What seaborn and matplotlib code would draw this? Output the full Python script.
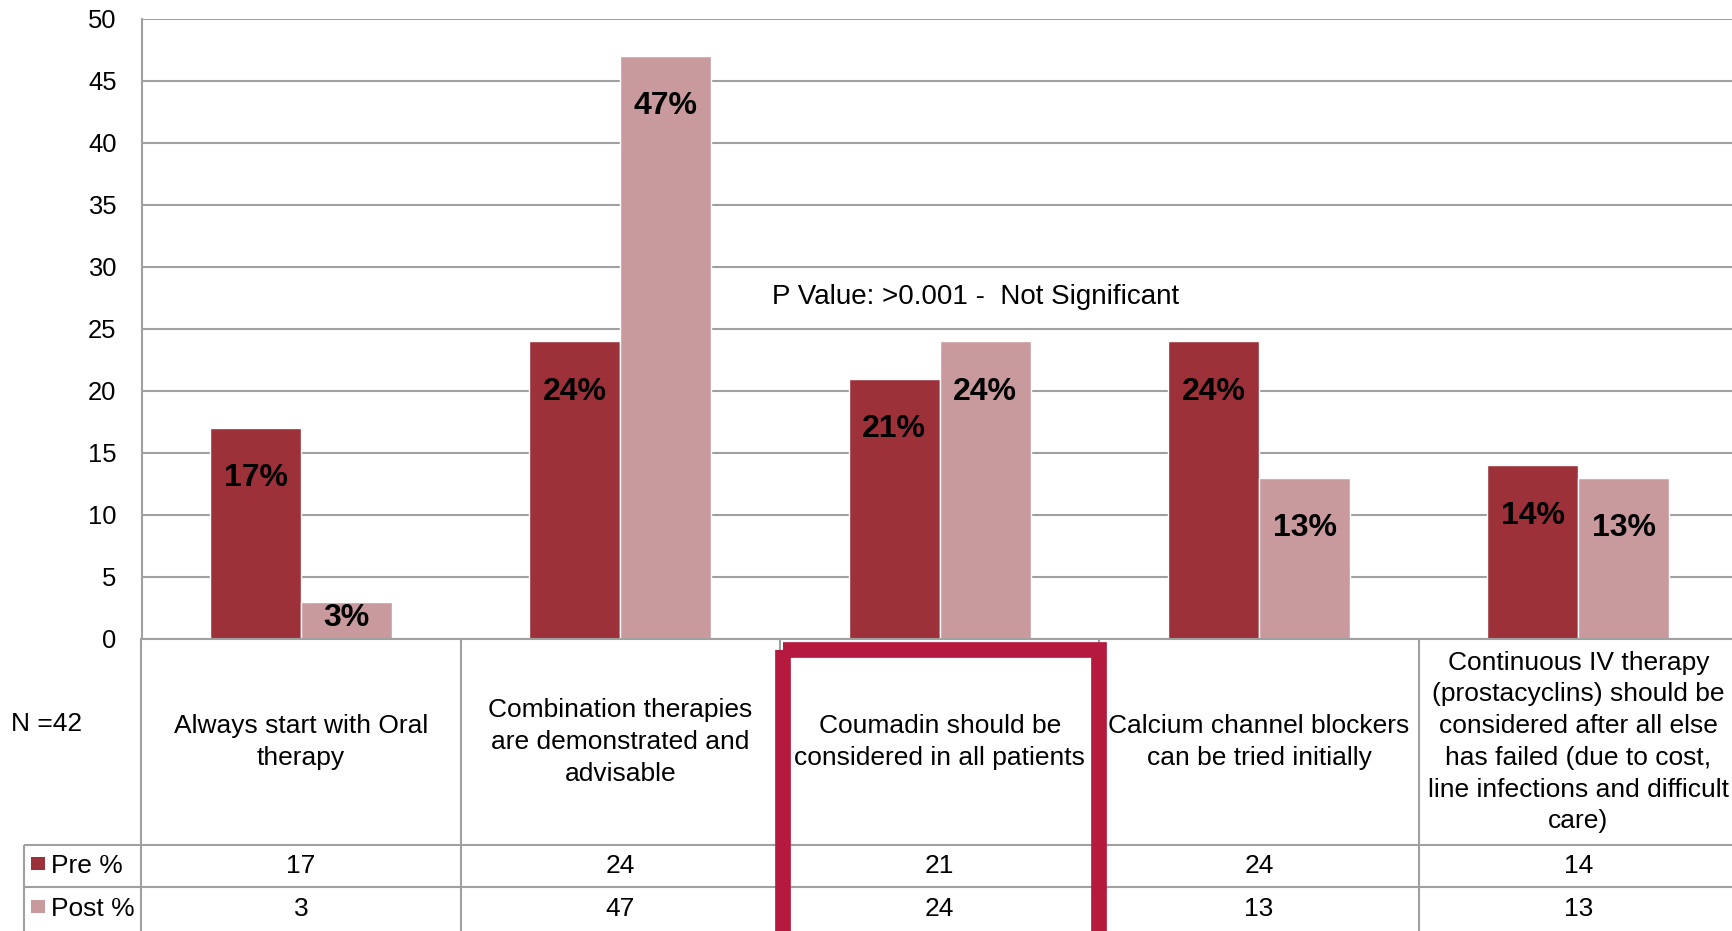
import matplotlib
matplotlib.use("Agg")
import matplotlib.pyplot as plt
import seaborn as sns
import pandas as pd
import numpy as np
from matplotlib.patches import Rectangle

# ---- data -------------------------------------------------------------
categories = [
    "Always start with Oral\ntherapy",
    "Combination therapies\nare demonstrated and\nadvisable",
    "Coumadin should be\nconsidered in all patients",
    "Calcium channel blockers\ncan be tried initially",
    "Continuous IV therapy\n(prostacyclins) should be\nconsidered after all else\n"
    "has failed (due to cost,\nline infections and difficult\ncare)",
]
pre_pct = [17, 24, 21, 24, 14]
post_pct = [3, 47, 24, 13, 13]
series_names = ["Pre %", "Post %"]
y_ticks = [0, 5, 10, 15, 20, 25, 30, 35, 40, 45, 50]
sample_note = "N =42"
p_value_note = "P Value: >0.001 -  Not Significant"
highlight_index = 2

# ---- style ------------------------------------------------------------
pre_color = "#9D313A"
post_color = "#C99A9D"
line_gray = "#A0A0A0"
box_red = "#B51A3E"
table_fs = 19

sns.set_theme(style="white")
plt.rcParams["font.family"] = ["Liberation Sans", "DejaVu Sans"]

W, H = 1733, 931
fig = plt.figure(figsize=(W / 100, H / 100), dpi=100)

# plot area in pixels
px_left, px_right, px_top, px_zero = 141.5, 1738.0, 18.8, 639.0
cat_px = (px_right - px_left) / len(categories)

ax = fig.add_axes([px_left / W, 1 - px_zero / H,
                   (px_right - px_left) / W, (px_zero - px_top) / H])

df = pd.DataFrame({
    "category": categories * 2,
    "series": [series_names[0]] * len(categories) + [series_names[1]] * len(categories),
    "value": pre_pct + post_pct,
})

sns.barplot(data=df, x="category", y="value", hue="series",
            order=categories, hue_order=series_names,
            palette=[pre_color, post_color], saturation=1,
            width=0.57, gap=0, legend=False, ax=ax, zorder=2)

ax.set_xlim(-0.5, len(categories) - 0.5)
ax.set_ylim(0, 50)
ax.set_yticks(y_ticks)
ax.yaxis.grid(True, color=line_gray, lw=1.5, zorder=0)
ax.set_axisbelow(True)
ax.tick_params(axis="y", length=0, pad=18, labelsize=18.4, labelcolor="black")
ax.tick_params(axis="x", length=0, labelbottom=False)
ax.set_xlabel("")
ax.set_ylabel("")
for side in ("top", "right"):
    ax.spines[side].set_visible(False)
for side in ("left", "bottom"):
    ax.spines[side].set_color(line_gray)
    ax.spines[side].set_linewidth(1.5)

# value labels inside the top of each bar
for cont, vals in zip(ax.containers, [pre_pct, post_pct]):
    for bar, v in zip(cont, vals):
        xc = bar.get_x() + bar.get_width() / 2
        yc = max(bar.get_height() - 4.05, bar.get_height() / 2 + 0.2)
        ax.text(xc, yc, f"{v}%", ha="center", va="center",
                fontsize=23, fontweight="bold", color="black", zorder=3)

ax.text(1.474, 27.56, p_value_note, ha="left", va="center",
        fontsize=20, color="black")

# ---- data table under the chart --------------------------------------
tbl_h = H - px_zero
tax = fig.add_axes([px_left / W, 0, (px_right - px_left) / W, tbl_h / H])
tax.set_xlim(-0.5, len(categories) - 0.5)
tax.set_ylim(tbl_h, 0)
tax.axis("off")

head_bot, pre_bot = 206, 248
x_leg = -0.5 - (px_left - 24) / cat_px

for b in np.arange(-0.5, len(categories) + 0.5):
    tax.vlines(b, 0, tbl_h, color=line_gray, lw=1.5, clip_on=False)
tax.hlines([head_bot, pre_bot], x_leg, len(categories) - 0.5,
           color=line_gray, lw=1.5, clip_on=False)
tax.vlines(x_leg, head_bot, tbl_h, color=line_gray, lw=1.5, clip_on=False)

pre_mid = (head_bot + pre_bot) / 2
post_mid = (pre_bot + tbl_h) / 2
for i, cat in enumerate(categories):
    tax.text(i, head_bot / 2, cat, ha="center", va="center",
             fontsize=table_fs, linespacing=1.41, color="black")
    tax.text(i, pre_mid, str(pre_pct[i]), ha="center", va="center",
             fontsize=table_fs, color="black")
    tax.text(i, post_mid, str(post_pct[i]), ha="center", va="center",
             fontsize=table_fs, color="black")

# legend keys inside the table's row headers
key_x = -0.5 - (px_left - 31) / cat_px
key_w = 14 / cat_px
txt_x = -0.5 - (px_left - 51) / cat_px
for name, col, mid in zip(series_names, [pre_color, post_color], [pre_mid, post_mid]):
    tax.add_patch(Rectangle((key_x, mid - 9), key_w, 13, facecolor=col,
                            edgecolor="none", clip_on=False))
    tax.text(txt_x, mid, name, ha="left", va="center", fontsize=table_fs,
             color="black", clip_on=False)

tax.text(-0.5 - (px_left - 11) / cat_px, 85, sample_note, ha="left",
         va="center", fontsize=table_fs, color="black", clip_on=False)

# highlight frame around one statement
inset = 3 / cat_px
tax.add_patch(Rectangle((highlight_index - 0.5 + inset, 11), 1 - inset, 400,
                        facecolor="none", edgecolor=box_red, lw=11.3,
                        joinstyle="miter", clip_on=False, zorder=5))

fig.savefig("out.png", dpi=100)
